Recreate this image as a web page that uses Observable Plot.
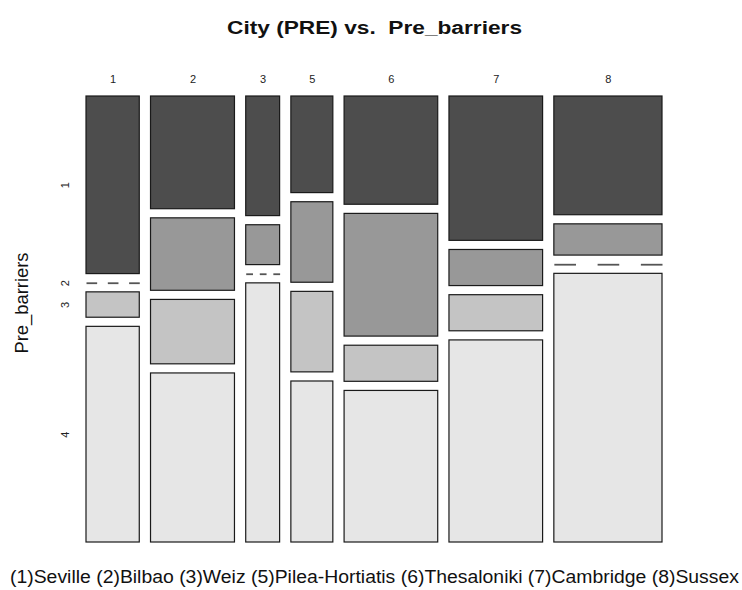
<!DOCTYPE html>
<html>
<head>
<meta charset="utf-8">
<script src="https://cdn.jsdelivr.net/npm/d3@7"></script>
<script src="https://cdn.jsdelivr.net/npm/@observablehq/plot@0.6"></script>
<style>
  html, body { margin: 0; padding: 0; background: #fff; }
  #chart svg { display: block; font-family: "Liberation Sans", Arial, sans-serif; }
</style>
</head>
<body>
<div id="chart"></div>
<script>
// ---- data (counts read from the mosaic) ----
const cityCodes = ["1", "2", "3", "5", "6", "7", "8"];
const cityNames = ["Seville", "Bilbao", "Weiz", "Pilea-Hortiatis", "Thesaloniki", "Cambridge", "Sussex"];
const barrierLevels = ["1", "2", "3", "4"];
const barrier1 = [14, 14, 6, 6, 15, 20, 19];
const barrier2 = [0, 9, 2, 5, 17, 5, 5];
const barrier3 = [2, 8, 0, 5, 5, 5, 0];
const barrier4 = [17, 21, 13, 10, 21, 28, 43];
const grays = ["#4D4D4D", "#989898", "#C4C4C4", "#E6E6E6"];
const titleText = "City (PRE) vs.  Pre_barriers";
const yTitle = "Pre_barriers";

// ---- mosaic layout built from the counts ----
const series = [barrier1, barrier2, barrier3, barrier4];
const colTotals = cityCodes.map((_, i) => d3.sum(series, s => s[i]));
const N = d3.sum(colTotals);
const gapX = 11.25 / 576, gapY = 9.13 / 446;
const availX = 1 - (cityCodes.length - 1) * gapX;
const availY = 1 - (barrierLevels.length - 1) * gapY;

const cells = [], dashes = [], colInfo = [], rowLabels = [];
let x = 0;
cityCodes.forEach((code, i) => {
  const w = colTotals[i] / N * availX;
  const x1 = x, x2 = x + w;
  colInfo.push({code, xc: (x1 + x2) / 2});
  let y = 0;
  barrierLevels.forEach((lev, j) => {
    const c = series[j][i];
    const h = c / colTotals[i] * availY;
    if (c > 0) {
      cells.push({city: code, level: lev, count: c, x1, x2, y1: y, y2: y + h});
    } else {
      for (const k of [0, 2, 4]) dashes.push({x1: x1 + w * k / 5, x2: x1 + w * (k + 1) / 5, y});
    }
    if (i === 0) rowLabels.push({level: lev, yc: y + h / 2});
    y += h + gapY;
  });
  x = x2 + gapX;
});
const caption = cityCodes.map((c, i) => `(${c})${cityNames[i]}`).join(" ");

const font = "Liberation Sans, Arial, sans-serif";
const mid = {textAnchor: "middle", lineAnchor: "middle"};
const chart = Plot.plot({
  width: 742,
  height: 590,
  marginTop: 96,
  marginBottom: 48,
  marginLeft: 86,
  marginRight: 80,
  style: {background: "#fff", fontFamily: font},
  x: {domain: [0, 1], axis: null},
  y: {domain: [0, 1], reverse: true, axis: null},
  color: {type: "ordinal", domain: barrierLevels, range: grays},
  marks: [
    Plot.rect(cells, {x1: "x1", x2: "x2", y1: "y1", y2: "y2", fill: "level", stroke: "#1a1a1a", strokeWidth: 1.2}),
    Plot.link(dashes, {x1: "x1", x2: "x2", y1: "y", y2: "y", stroke: "#555", strokeWidth: 1.8}),
    Plot.text(colInfo, {...mid, x: "xc", text: "code", frameAnchor: "top", dy: -17, fontSize: 11, fill: "#222"}),
    Plot.text(rowLabels, {...mid, y: "yc", text: "level", frameAnchor: "left", dx: -21, rotate: -90, fontSize: 11, fill: "#222"}),
    Plot.text([yTitle], {...mid, text: d => d, frameAnchor: "left", dx: -64, dy: -16.5, rotate: -90, fontSize: 18, fill: "#111"}),
    Plot.text([titleText], {...mid, text: d => d, frameAnchor: "top", dy: -68.5, fontSize: 18, fontWeight: "bold", fill: "#111"}),
    Plot.text([caption], {...mid, text: d => d, frameAnchor: "bottom", dy: 35, fontSize: 17.5, fill: "#111"})
  ]
});
// stretch the long labels to the widths they have in the reference
const stretch = {[titleText]: 295, [caption]: 729, [yTitle]: 101};
d3.select(chart).selectAll("text").each(function () {
  const L = stretch[this.textContent];
  if (L) {
    this.setAttribute("textLength", L);
    this.setAttribute("lengthAdjust", "spacingAndGlyphs");
    this.style.whiteSpace = "pre";
  }
});
document.getElementById("chart").appendChild(chart);
</script>
</body>
</html>
